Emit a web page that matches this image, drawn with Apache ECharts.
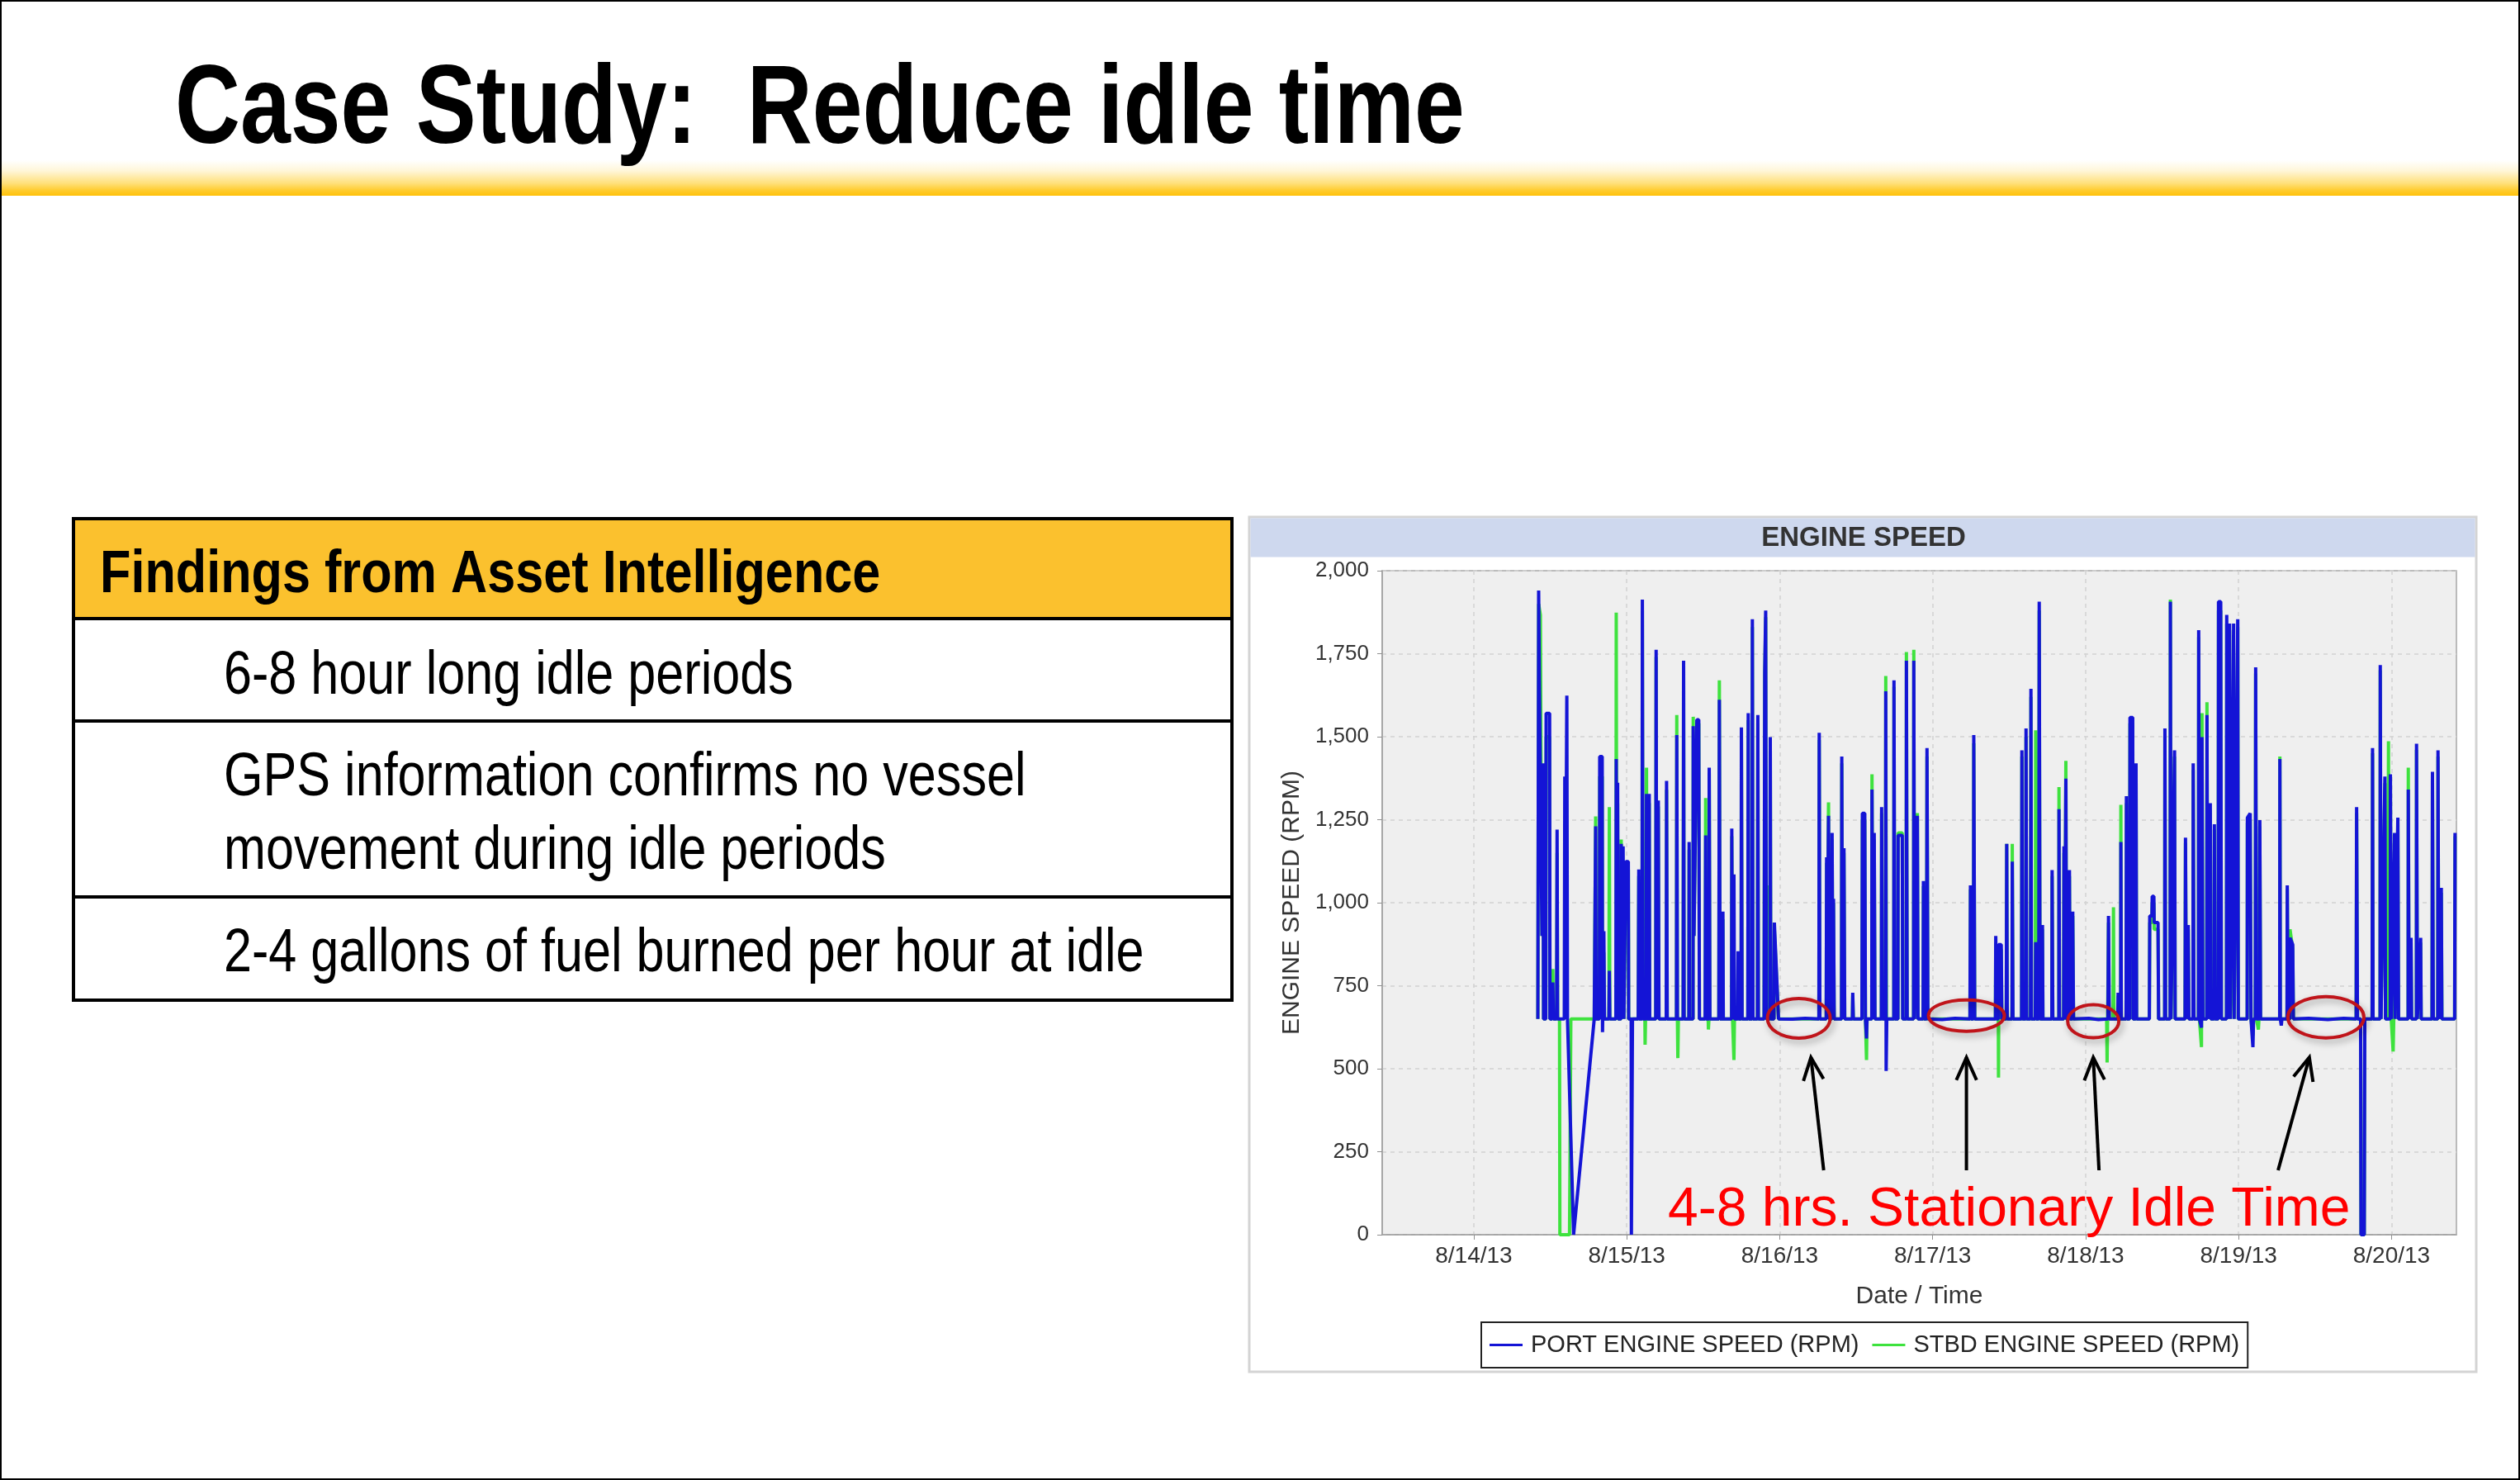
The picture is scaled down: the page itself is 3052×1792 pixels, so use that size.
<!DOCTYPE html>
<html><head><meta charset="utf-8">
<script src="https://cdn.jsdelivr.net/npm/echarts@6/dist/echarts.min.js"></script>
<style>html,body{margin:0;padding:0;background:#fff}#c{width:3052px;height:1792px}</style>
</head><body><div id="c"></div><script>
// ---- data (hours since 8/14/13 00:00, RPM) ----
const dayTicks = [0, 24, 48, 72, 96, 120, 144];
const dayLabels = ['8/14/13', '8/15/13', '8/16/13', '8/17/13', '8/18/13', '8/19/13', '8/20/13'];
const rpmTicks = [0, 250, 500, 750, 1000, 1250, 1500, 1750, 2000];

const portSeries = [
[10.05,650],[10.18,1940],[10.30,1640],[10.55,1640],[10.70,900],[10.85,1420],[10.95,650],[11.30,650],[11.35,1570],[11.90,1570],[11.95,650],
[12.30,650],[12.40,760],[12.50,650],[13.00,650],[13.07,1220],[13.15,650],[14.20,650],[14.28,1380],[14.40,900],[14.60,1624],[14.70,650],
[14.85,550],[15.02,550],[15.66,0],[18.90,650],[19.12,1230],[19.20,650],[19.70,650],[19.76,1440],[20.15,1440],[20.20,610],[20.35,610],
[20.41,914],[20.50,650],[21.20,650],[21.27,795],[21.35,650],[22.30,650],[22.35,1433],[22.45,650],[22.57,1361],[22.65,650],[23.10,650],
[23.13,1177],[23.30,900],[23.43,1170],[23.55,650],[23.80,650],[23.86,1124],[24.25,1124],[24.30,650],[24.70,650],[24.73,0],[24.85,0],
[24.90,650],[25.80,650],[25.89,1100],[25.95,650],[26.40,650],[26.45,1913],[26.55,650],[27.05,650],[27.10,1328],[27.20,650],[27.50,650],
[27.53,1328],[27.60,650],[28.55,650],[28.61,1762],[28.70,650],[28.90,650],[28.95,1308],[29.05,650],[30.20,650],[30.25,1367],[30.35,650],
[31.80,650],[31.85,1505],[31.95,650],[32.85,650],[32.92,1729],[33.00,650],[33.75,650],[33.79,1183],[33.85,650],[34.40,650],[34.43,1532],
[34.55,900],[35.00,1551],[35.30,1551],[35.40,650],[36.30,650],[36.38,1203],[36.45,650],[36.90,650],[36.94,1407],[37.05,650],[38.45,650],
[38.53,1611],[38.65,650],[39.05,650],[39.09,973],[39.15,650],[40.45,650],[40.48,1223],[40.60,650],[40.78,650],[40.82,1085],[40.90,650],
[41.40,650],[41.47,854],[41.55,650],[41.95,650],[41.99,1528],[42.10,650],[43.00,650],[43.06,1571],[43.15,650],[43.65,650],[43.71,1854],
[43.80,650],[44.50,650],[44.57,1565],[44.65,650],[45.55,650],[45.65,1696],[45.80,1880],[45.90,650],[46.45,650],[46.52,1499],[46.60,650],
[47.10,650],[47.16,940],[47.81,650],[50.00,649],[52.00,652],[54.15,650],[54.20,1512],[54.30,650],[55.30,650],[55.36,1137],[55.50,900],
[55.66,1262],[55.80,650],[56.15,650],[56.22,1210],[56.35,650],[56.44,1012],[56.55,650],[57.70,650],[57.74,1440],[57.85,650],[58.08,1164],
[58.20,650],[59.40,650],[59.46,729],[59.55,650],[60.90,650],[60.97,1269],[61.35,1269],[61.45,650],[61.62,591],[61.70,650],[62.45,650],
[62.48,1341],[62.60,650],[62.83,1210],[62.95,650],[63.95,650],[63.99,1288],[64.10,650],[64.60,650],[64.64,1637],[64.70,493],[64.80,650],
[65.90,650],[65.93,1670],[66.05,650],[66.55,650],[66.58,1203],[67.23,1203],[67.30,650],[67.85,650],[67.88,1729],[68.00,650],[69.00,650],
[69.04,1729],[69.15,650],[69.60,1262],[69.70,650],[70.50,650],[70.55,1065],[70.65,650],[71.05,650],[71.11,1466],[71.25,650],[73.50,648],
[75.50,652],[77.85,650],[77.93,1052],[78.00,650],[78.40,650],[78.45,1505],[78.60,650],[81.85,650],[81.90,900],[82.00,650],[82.30,650],
[82.33,874],[82.76,874],[82.85,650],[83.55,650],[83.62,1177],[83.70,650],[84.45,650],[84.49,1124],[84.60,650],[85.95,650],[86.00,1459],
[86.10,650],[86.60,650],[86.65,1525],[86.75,650],[87.35,650],[87.42,1644],[87.50,650],[88.10,650],[88.16,881],[88.25,650],[88.65,650],
[88.72,1907],[88.85,650],[89.20,650],[89.23,933],[89.30,650],[90.70,650],[90.74,1098],[90.85,650],[91.80,650],[91.82,1282],[91.90,650],
[92.55,650],[92.60,1170],[92.70,650],[92.85,650],[92.90,1374],[93.00,650],[93.40,650],[93.46,1098],[93.55,650],[93.95,650],[93.98,973],
[94.10,650],[96.50,652],[98.00,648],[99.50,650],[99.59,960],[99.70,650],[101.05,650],[101.10,729],[101.20,650],[101.50,650],[101.53,1183],
[101.60,650],[102.35,650],[102.40,1321],[102.50,650],[102.90,650],[102.96,1558],[103.39,1558],[103.45,650],[103.85,650],[103.91,1420],
[104.00,650],[106.00,650],[106.06,960],[106.40,960],[106.45,1019],[106.71,1019],[106.75,940],[107.36,940],[107.45,650],[108.40,650],[108.44,1525],[108.55,650],[109.25,650],
[109.30,1907],[109.40,650],[109.95,1459],[110.05,650],[111.60,650],[111.67,1196],[111.80,650],[112.10,933],[112.20,650],[112.85,650],
[112.88,1420],[113.00,650],[113.70,650],[113.74,1821],[113.85,650],[114.18,624],[114.26,1499],[114.40,650],[115.00,650],[115.04,1565],
[115.15,650],[115.56,1300],[115.65,650],[116.15,650],[116.20,1236],[116.30,650],[116.80,650],[116.85,1907],[117.20,1907],[117.30,650],
[118.10,650],[118.14,1867],[118.30,650],[118.58,1841],[118.70,650],[119.22,1841],[119.30,650],[119.87,1854],[119.95,650],[121.35,650],
[121.38,1256],[121.82,1269],[121.95,650],[122.25,565],[122.35,650],[122.62,650],[122.68,1709],[122.80,650],[123.30,650],[123.33,1249],
[123.45,650],[126.45,650],[126.48,1433],[126.55,650],[126.70,630],[126.80,650],[127.60,650],[127.64,1052],[127.75,650],[128.05,650],
[128.07,894],[128.50,874],[128.60,650],[131.00,652],[134.00,648],[136.50,652],[138.45,650],[138.52,1288],[138.65,650],[139.15,650],
[139.21,0],[139.72,0],[139.80,650],[140.95,650],[141.02,1466],[141.10,650],[142.20,650],[142.23,1716],[142.35,650],[142.96,1380],
[143.05,650],[143.80,650],[143.82,1387],[143.95,650],[144.47,1210],[144.55,650],[144.99,1256],[145.10,650],[146.60,650],[146.63,1341],
[146.75,650],[147.06,894],[147.15,650],[147.90,650],[147.92,1479],[148.05,650],[148.57,894],[148.65,650],[150.35,650],[150.42,1394],
[150.55,650],[151.25,650],[151.29,1459],[151.40,650],[151.81,1045],[151.90,650],[153.90,650],[153.96,1210]
];

const stbdSeries = [
[10.05,650],[10.18,1900],[10.45,1867],[10.55,1400],[10.70,900],[10.85,1300],[10.95,650],[11.30,650],[11.35,1500],[11.90,1500],[11.95,650],
[12.30,650],[12.40,800],[12.50,650],[13.00,650],[13.07,1150],[13.15,650],[13.45,650],[13.51,0],[15.02,0],[15.23,650],[18.90,650],
[19.12,1260],[19.20,650],[19.70,650],[19.76,1380],[20.15,1380],[20.20,650],[20.41,850],[20.50,650],[21.20,650],[21.27,1288],[21.35,650],
[22.30,650],[22.35,1874],[22.45,650],[22.57,1300],[22.65,650],[23.10,650],[23.13,1190],[23.30,900],[23.43,1100],[23.55,650],[23.80,650],
[23.86,1100],[24.25,1100],[24.30,650],[25.80,650],[25.89,1080],[25.95,650],[26.40,650],[26.45,1880],[26.55,650],[26.85,650],[26.88,572],
[26.95,650],[27.05,650],[27.10,1407],[27.20,650],[27.50,650],[27.53,1300],[27.60,650],[28.55,650],[28.61,1740],[28.70,650],[28.90,650],
[28.95,1290],[29.05,650],[30.20,650],[30.25,1340],[30.35,650],[31.80,650],[31.85,1565],[31.95,650],[32.02,532],[32.10,650],[32.85,650],
[32.92,1700],[33.00,650],[33.75,650],[33.79,1160],[33.85,650],[34.40,650],[34.43,1560],[34.55,900],[35.00,1540],[35.30,1540],[35.40,650],
[36.30,650],[36.38,1315],[36.45,650],[36.78,650],[36.81,618],[36.90,650],[36.94,1390],[37.05,650],[38.45,650],[38.53,1670],[38.65,650],
[39.05,650],[39.09,950],[39.15,650],[40.45,650],[40.48,1200],[40.60,650],[40.78,650],[40.82,526],[40.90,650],[41.40,650],[41.47,830],
[41.55,650],[41.95,650],[41.99,1510],[42.10,650],[43.00,650],[43.06,1550],[43.15,650],[43.65,650],[43.71,1830],[43.80,650],[44.50,650],
[44.57,1540],[44.65,650],[45.55,650],[45.65,1680],[45.80,1860],[45.90,650],[46.05,1052],[46.15,650],[46.45,650],[46.52,1480],[46.60,650],
[47.10,650],[47.16,920],[47.81,650],[54.15,650],[54.20,1490],[54.30,650],[55.30,650],[55.36,1120],[55.50,900],[55.66,1302],[55.80,650],
[56.15,650],[56.22,1190],[56.35,650],[56.44,1000],[56.55,650],[57.70,650],[57.74,1420],[57.85,650],[58.08,1150],[58.20,650],[59.40,650],
[59.46,720],[59.55,650],[60.90,650],[60.97,1250],[61.35,1250],[61.45,650],[61.62,526],[61.70,650],[62.45,650],[62.48,1387],[62.60,650],
[62.83,1190],[62.95,650],[63.95,650],[63.99,1270],[64.10,650],[64.60,650],[64.64,1683],[64.75,650],[65.90,650],[65.93,1650],[66.05,650],
[66.55,650],[66.58,1210],[67.23,1210],[67.30,650],[67.85,650],[67.88,1755],[68.00,650],[69.00,650],[69.04,1762],[69.15,650],[69.60,1270],
[69.70,650],[70.50,650],[70.55,1050],[70.65,650],[71.05,650],[71.11,1440],[71.25,650],[77.85,650],[77.93,1040],[78.00,650],[78.40,650],
[78.45,1480],[78.60,650],[81.85,650],[81.90,880],[82.00,650],[82.30,650],[82.33,473],[82.40,860],[82.76,860],[82.85,650],[83.55,650],
[83.62,1177],[83.70,650],[84.45,650],[84.49,1177],[84.60,650],[85.95,650],[86.00,1440],[86.10,650],[86.60,650],[86.65,1500],[86.75,650],
[87.35,650],[87.42,1620],[87.50,650],[88.10,650],[88.16,1519],[88.25,650],[88.65,650],[88.72,1880],[88.85,650],[89.20,650],[89.23,920],
[89.30,650],[90.70,650],[90.74,1080],[90.85,650],[91.80,650],[91.82,1348],[91.90,650],[92.55,650],[92.60,1150],[92.70,650],[92.85,650],
[92.90,1427],[93.00,650],[93.40,650],[93.46,1080],[93.55,650],[93.95,650],[93.98,960],[94.10,650],[99.30,650],[99.37,519],[99.45,650],
[99.59,940],[99.70,650],[100.30,650],[100.37,986],[100.45,650],[101.05,650],[101.10,720],[101.20,650],[101.50,650],[101.53,1295],
[101.60,650],[102.35,650],[102.40,1300],[102.50,650],[102.90,650],[102.96,1540],[103.39,1540],[103.45,650],[103.85,650],[103.91,1400],
[104.00,650],[106.00,650],[106.06,940],[106.40,940],[106.45,1000],[106.71,1000],[106.75,920],[107.36,920],[107.45,650],[108.40,650],[108.44,1500],[108.55,650],[109.25,650],
[109.30,1913],[109.40,650],[109.95,1440],[110.05,650],[111.60,650],[111.67,1180],[111.80,650],[112.10,920],[112.20,650],[112.85,650],
[112.88,1400],[113.00,650],[113.70,650],[113.74,1800],[113.85,650],[114.18,565],[114.26,1571],[114.40,650],[115.00,650],[115.04,1604],
[115.15,650],[115.56,1280],[115.65,650],[116.15,650],[116.20,1220],[116.30,650],[116.80,650],[116.85,1880],[117.20,1880],[117.30,650],
[118.10,650],[118.14,1840],[118.30,650],[118.58,1820],[118.70,650],[119.22,1000],[119.30,650],[119.87,1830],[119.95,650],[121.35,650],
[121.38,1240],[121.82,1250],[121.95,650],[122.25,600],[122.35,650],[122.62,650],[122.68,1690],[122.80,650],[123.05,650],[123.11,618],
[123.20,650],[123.33,1230],[123.45,650],[126.45,650],[126.48,1440],[126.55,650],[127.60,650],[127.64,1040],[127.75,650],[128.05,650],
[128.07,920],[128.50,860],[128.60,650],[138.45,650],[138.52,1270],[138.65,650],[139.15,650],[139.21,0],[139.72,0],[139.80,650],
[140.95,650],[141.02,1450],[141.10,650],[142.20,650],[142.23,1700],[142.35,650],[142.96,1360],[143.05,650],[143.45,650],[143.52,1486],
[143.60,650],[143.82,1370],[143.95,650],[144.20,650],[144.25,552],[144.35,650],[144.47,1200],[144.55,650],[144.99,1240],[145.10,650],
[146.60,650],[146.63,1407],[146.75,650],[147.06,880],[147.15,650],[147.90,650],[147.92,1460],[148.05,650],[148.57,880],[148.65,650],
[150.35,650],[150.42,1380],[150.55,650],[151.25,650],[151.29,1440],[151.40,650],[151.81,1030],[151.90,650],[153.90,650],[153.96,1200]
];

// annotation anchors (hours, RPM)
const idleCenters = [[51.0, 652], [77.3, 660], [97.2, 643], [133.7, 655]];
const arrowTips = [[52.9, 534], [77.3, 534], [97.2, 534], [131.1, 534]];
const arrowTails = [[54.9, 194], [77.3, 194], [98.1, 194], [126.2, 194]];
const annotationText = '4-8 hrs. Stationary Idle Time';

const slideTitle = 'Case Study:  Reduce idle time';
const tableHeader = 'Findings from Asset Intelligence';
const tableRows = [
  ['6-8 hour long idle periods'],
  ['GPS information confirms no vessel', 'movement during idle periods'],
  ['2-4 gallons of fuel burned per hour at idle']
];

// ---- chart ----
const FONT = '"Liberation Sans", Arial, Helvetica, sans-serif';
const chart = echarts.init(document.getElementById('c'), null, {renderer: 'canvas'});

const g = [];
g.push({type: 'rect', z: -20, shape: {x: 1, y: 1, width: 3050, height: 1790}, style: {fill: '#fff', stroke: '#000', lineWidth: 2}});
g.push({type: 'rect', z: -19, shape: {x: 2, y: 194, width: 3048, height: 43},
  style: {fill: new echarts.graphic.LinearGradient(0, 0, 0, 1, [
    {offset: 0, color: '#FFFFFF'}, {offset: 0.3, color: '#FFF6D8'}, {offset: 0.65, color: '#FFE07A'},
    {offset: 0.85, color: '#FFCC2E'}, {offset: 1, color: '#FFC10A'}])}});
g.push({type: 'text', z: 5, x: 212, y: 136, scaleX: 0.81,
  style: {text: slideTitle, font: 'bold 135px ' + FONT, fill: '#000', verticalAlign: 'middle'}});

g.push({type: 'rect', z: -18, shape: {x: 89, y: 628, width: 1403, height: 121}, style: {fill: '#FBC12E'}});
g.push({type: 'rect', z: -17, shape: {x: 89, y: 628, width: 1403, height: 583}, style: {fill: 'none', stroke: '#000', lineWidth: 4}});
[749, 873, 1086].forEach(y => g.push({type: 'line', z: -17, shape: {x1: 89, y1: y, x2: 1492, y2: y}, style: {stroke: '#000', lineWidth: 4}}));
g.push({type: 'text', z: 5, x: 121, y: 697, scaleX: 0.85,
  style: {text: tableHeader, font: 'bold 72px ' + FONT, fill: '#000', verticalAlign: 'middle'}});
const rowY = [[820], [943, 1032], [1156]];
tableRows.forEach((lines, i) => lines.forEach((t, j) => g.push({type: 'text', z: 5, x: 271, y: rowY[i][j], scaleX: 0.826,
  style: {text: t, font: '74px ' + FONT, fill: '#000', verticalAlign: 'middle'}})));

g.push({type: 'rect', z: -15, shape: {x: 1513, y: 626, width: 1486, height: 1035}, style: {fill: '#fff', stroke: '#D4D4D4', lineWidth: 3}});
g.push({type: 'rect', z: -14, shape: {x: 1514.5, y: 627.5, width: 1483, height: 47}, style: {fill: '#CED8EE'}});
g.push({type: 'text', z: 5, x: 2257, y: 652,
  style: {text: 'ENGINE SPEED', font: 'bold 33px ' + FONT, fill: '#333', align: 'center', verticalAlign: 'middle'}});

const option = {
  animation: false,
  backgroundColor: '#fff',
  graphic: {elements: g},
  grid: {left: 1674, top: 691, width: 1301, height: 804, show: true, backgroundColor: '#EFEFEF', borderColor: '#A8A8A8', borderWidth: 1.5, containLabel: false},
  legend: {
    left: 1794, top: 1601, orient: 'horizontal', icon: 'rect', itemWidth: 40, itemHeight: 3, itemGap: 16,
    padding: [13, 10], borderColor: '#222', borderWidth: 2, backgroundColor: '#fff',
    textStyle: {fontFamily: FONT, fontSize: 29, color: '#222', padding: [0, 0, 0, 5]},
    data: ['PORT ENGINE SPEED (RPM)', 'STBD ENGINE SPEED (RPM)']
  },
  xAxis: {
    type: 'value', min: -14.37, max: 154.18,
    name: 'Date / Time', nameLocation: 'middle', nameGap: 60,
    nameTextStyle: {fontFamily: FONT, fontSize: 30, color: '#333'},
    axisLine: {show: true, onZero: false, lineStyle: {color: '#A0A0A0', width: 1.5}},
    axisTick: {show: true, length: 6, customValues: dayTicks, lineStyle: {color: '#909090'}},
    axisLabel: {customValues: dayTicks, margin: 12, fontFamily: FONT, fontSize: 28, color: '#333',
      formatter: v => dayLabels[dayTicks.indexOf(Math.round(v))] || ''},
    splitLine: {show: true, lineStyle: {color: '#D2D2D2', type: [5, 5], width: 1.5}}
  },
  yAxis: {
    type: 'value', min: 0, max: 2000, interval: 250,
    name: 'ENGINE SPEED (RPM)', nameLocation: 'middle', nameGap: 94, nameRotate: 90,
    nameTextStyle: {fontFamily: FONT, fontSize: 30, color: '#333'},
    axisLine: {show: true, onZero: false, lineStyle: {color: '#A0A0A0', width: 1.5}},
    axisTick: {show: true, length: 6, lineStyle: {color: '#909090'}},
    axisLabel: {margin: 16, fontFamily: FONT, fontSize: 26, color: '#333',
      formatter: v => rpmTicks.includes(v) ? v.toLocaleString('en-US') : ''},
    splitLine: {show: true, lineStyle: {color: '#D2D2D2', type: [5, 5], width: 1.5}}
  },
  series: [
    {name: 'STBD ENGINE SPEED (RPM)', type: 'line', data: stbdSeries, showSymbol: false, symbol: 'none',
      lineStyle: {color: '#3EE23E', width: 4}, itemStyle: {color: '#3EE23E'}, z: 2},
    {name: 'PORT ENGINE SPEED (RPM)', type: 'line', data: portSeries, showSymbol: false, symbol: 'none',
      lineStyle: {color: '#1414D6', width: 4}, itemStyle: {color: '#1414D6'}, z: 3}
  ]
};
chart.setOption(option);

const ann = [];
const radii = [[38, 24], [46, 19], [31, 20], [46, 25]];
idleCenters.forEach((c, i) => {
  const p = chart.convertToPixel({gridIndex: 0}, c);
  ann.push({type: 'ellipse', id: 'ell' + i, z: 50, shape: {cx: p[0], cy: p[1], rx: radii[i][0], ry: radii[i][1]},
    style: {fill: 'none', stroke: '#C0141A', lineWidth: 4, shadowColor: 'rgba(0,0,0,0.35)', shadowBlur: 8, shadowOffsetX: 3, shadowOffsetY: 4}});
});
arrowTips.forEach((tip, i) => {
  const a = chart.convertToPixel({gridIndex: 0}, tip);
  const b = chart.convertToPixel({gridIndex: 0}, arrowTails[i]);
  const ang = Math.atan2(b[1] - a[1], b[0] - a[0]);
  const L = 30, spread = 0.42;
  const l = [a[0] + L * Math.cos(ang - spread), a[1] + L * Math.sin(ang - spread)];
  const r = [a[0] + L * Math.cos(ang + spread), a[1] + L * Math.sin(ang + spread)];
  ann.push({type: 'line', id: 'arl' + i, z: 50, shape: {x1: b[0], y1: b[1], x2: a[0], y2: a[1]}, style: {stroke: '#000', lineWidth: 4}});
  ann.push({type: 'polyline', id: 'arh' + i, z: 50, shape: {points: [l, a, r]}, style: {stroke: '#000', lineWidth: 4, fill: 'none', lineJoin: 'miter'}});
});
ann.push({type: 'text', id: 'anntext', z: 50, x: 2020, y: 1466,
  style: {text: annotationText, font: '66px ' + FONT, fill: '#FF0000', verticalAlign: 'middle'}});
chart.setOption({graphic: {elements: ann}});
</script></body></html>
